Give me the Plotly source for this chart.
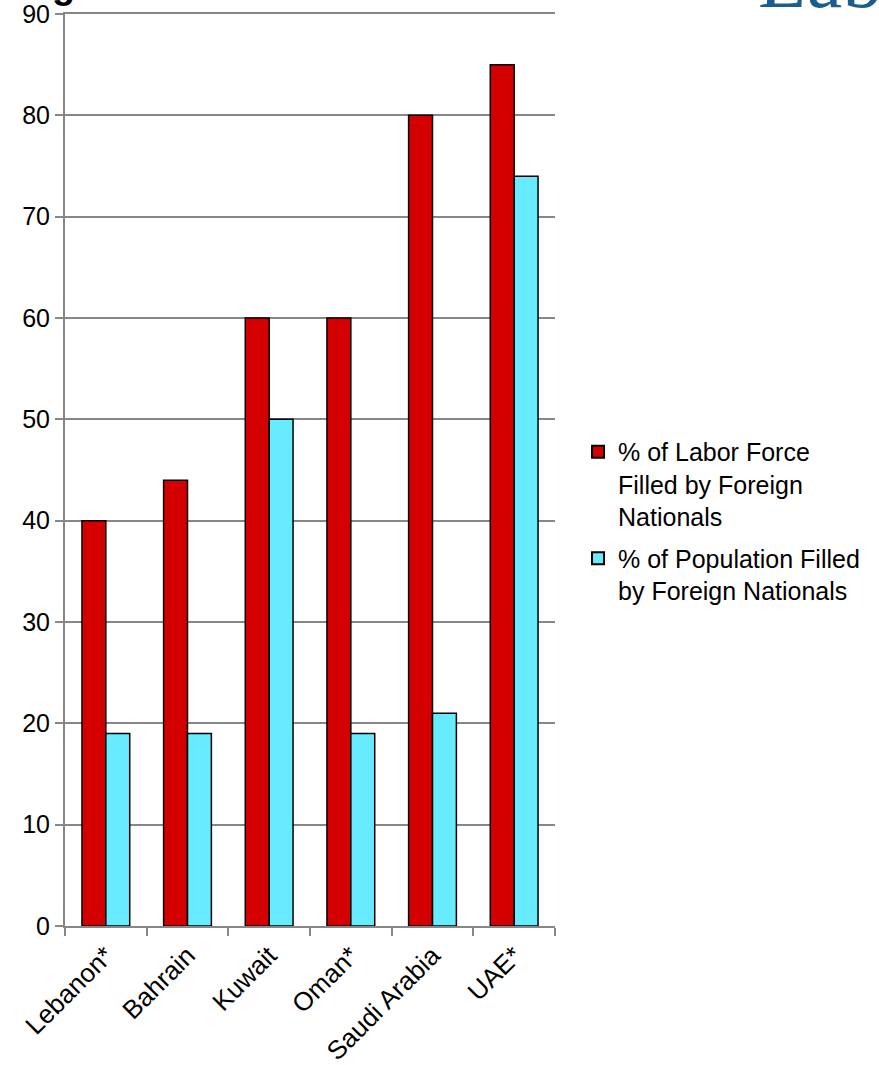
import plotly.graph_objects as go

countries = ["Lebanon*", "Bahrain", "Kuwait", "Oman*", "Saudi Arabia", "UAE*"]
labor_force = [40, 44, 60, 60, 80, 85]
population = [19, 19, 50, 19, 21, 74]
series_names = ["% of Labor Force<br>Filled by Foreign<br>Nationals",
                "% of Population Filled<br>by Foreign Nationals"]
y_ticks = [0, 10, 20, 30, 40, 50, 60, 70, 80, 90]

FONT = "Liberation Sans, Arial, sans-serif"
GRID = "#878787"

fig = go.Figure()
fig.add_trace(go.Bar(x=countries, y=labor_force, name=series_names[0], legendgroup="a",
                     marker=dict(color="#D40000", line=dict(color="black", width=1.5))))
fig.add_trace(go.Bar(x=countries, y=population, name=series_names[1], legendgroup="b",
                     marker=dict(color="#66EBFF", line=dict(color="black", width=1.5))))

fig.update_layout(
    width=879, height=1065,
    margin=dict(l=65, r=324, t=14, b=139),
    paper_bgcolor="white", plot_bgcolor="white",
    barmode="group", bargap=0.415, bargroupgap=0,
    font=dict(family=FONT, size=24, color="black"),
    legend=dict(x=1.047, y=0.545, xanchor="left", yanchor="top",
                font=dict(family=FONT, size=25, color="black"),
                valign="top", tracegroupgap=6, itemsizing="constant"),
    xaxis=dict(showline=True, linecolor=GRID, linewidth=2, automargin=False, mirror=True,
               ticks="outside", tickson="boundaries", ticklen=8, tickcolor=GRID, tickwidth=2,
               tickangle=-45, tickfont=dict(family=FONT, size=26, color="black"),
               ticklabelstandoff=2, ticklabeloverflow="allow", showgrid=False),
    yaxis=dict(range=[0, 90], tickvals=y_ticks, showline=True, linecolor=GRID, linewidth=2,
               automargin=False, ticksuffix="\u00a0", ticklabeloverflow="allow",
               ticks="outside", ticklen=8, tickcolor=GRID, tickwidth=2,
               showgrid=True, gridcolor=GRID, gridwidth=2,
               tickfont=dict(family=FONT, size=25, color="black"), zeroline=False),
)

# Cut-off headings at the top edge of the original slide
fig.add_annotation(text="<b>g</b>", xref="paper", yref="paper", x=-0.030, y=1.0071,
                   xanchor="left", yanchor="bottom", showarrow=False,
                   font=dict(family=FONT, size=38, color="black"))
fig.add_annotation(text="Lab", xref="paper", yref="paper", x=1.410, y=0.9869,
                   xanchor="left", yanchor="bottom", showarrow=False,
                   font=dict(family="Liberation Serif, Times New Roman, serif", size=80, color="#1B5E8E"))

fig.write_html("out.html", config={"displayModeBar": False},
               post_script="document.body.style.margin='0px';")
